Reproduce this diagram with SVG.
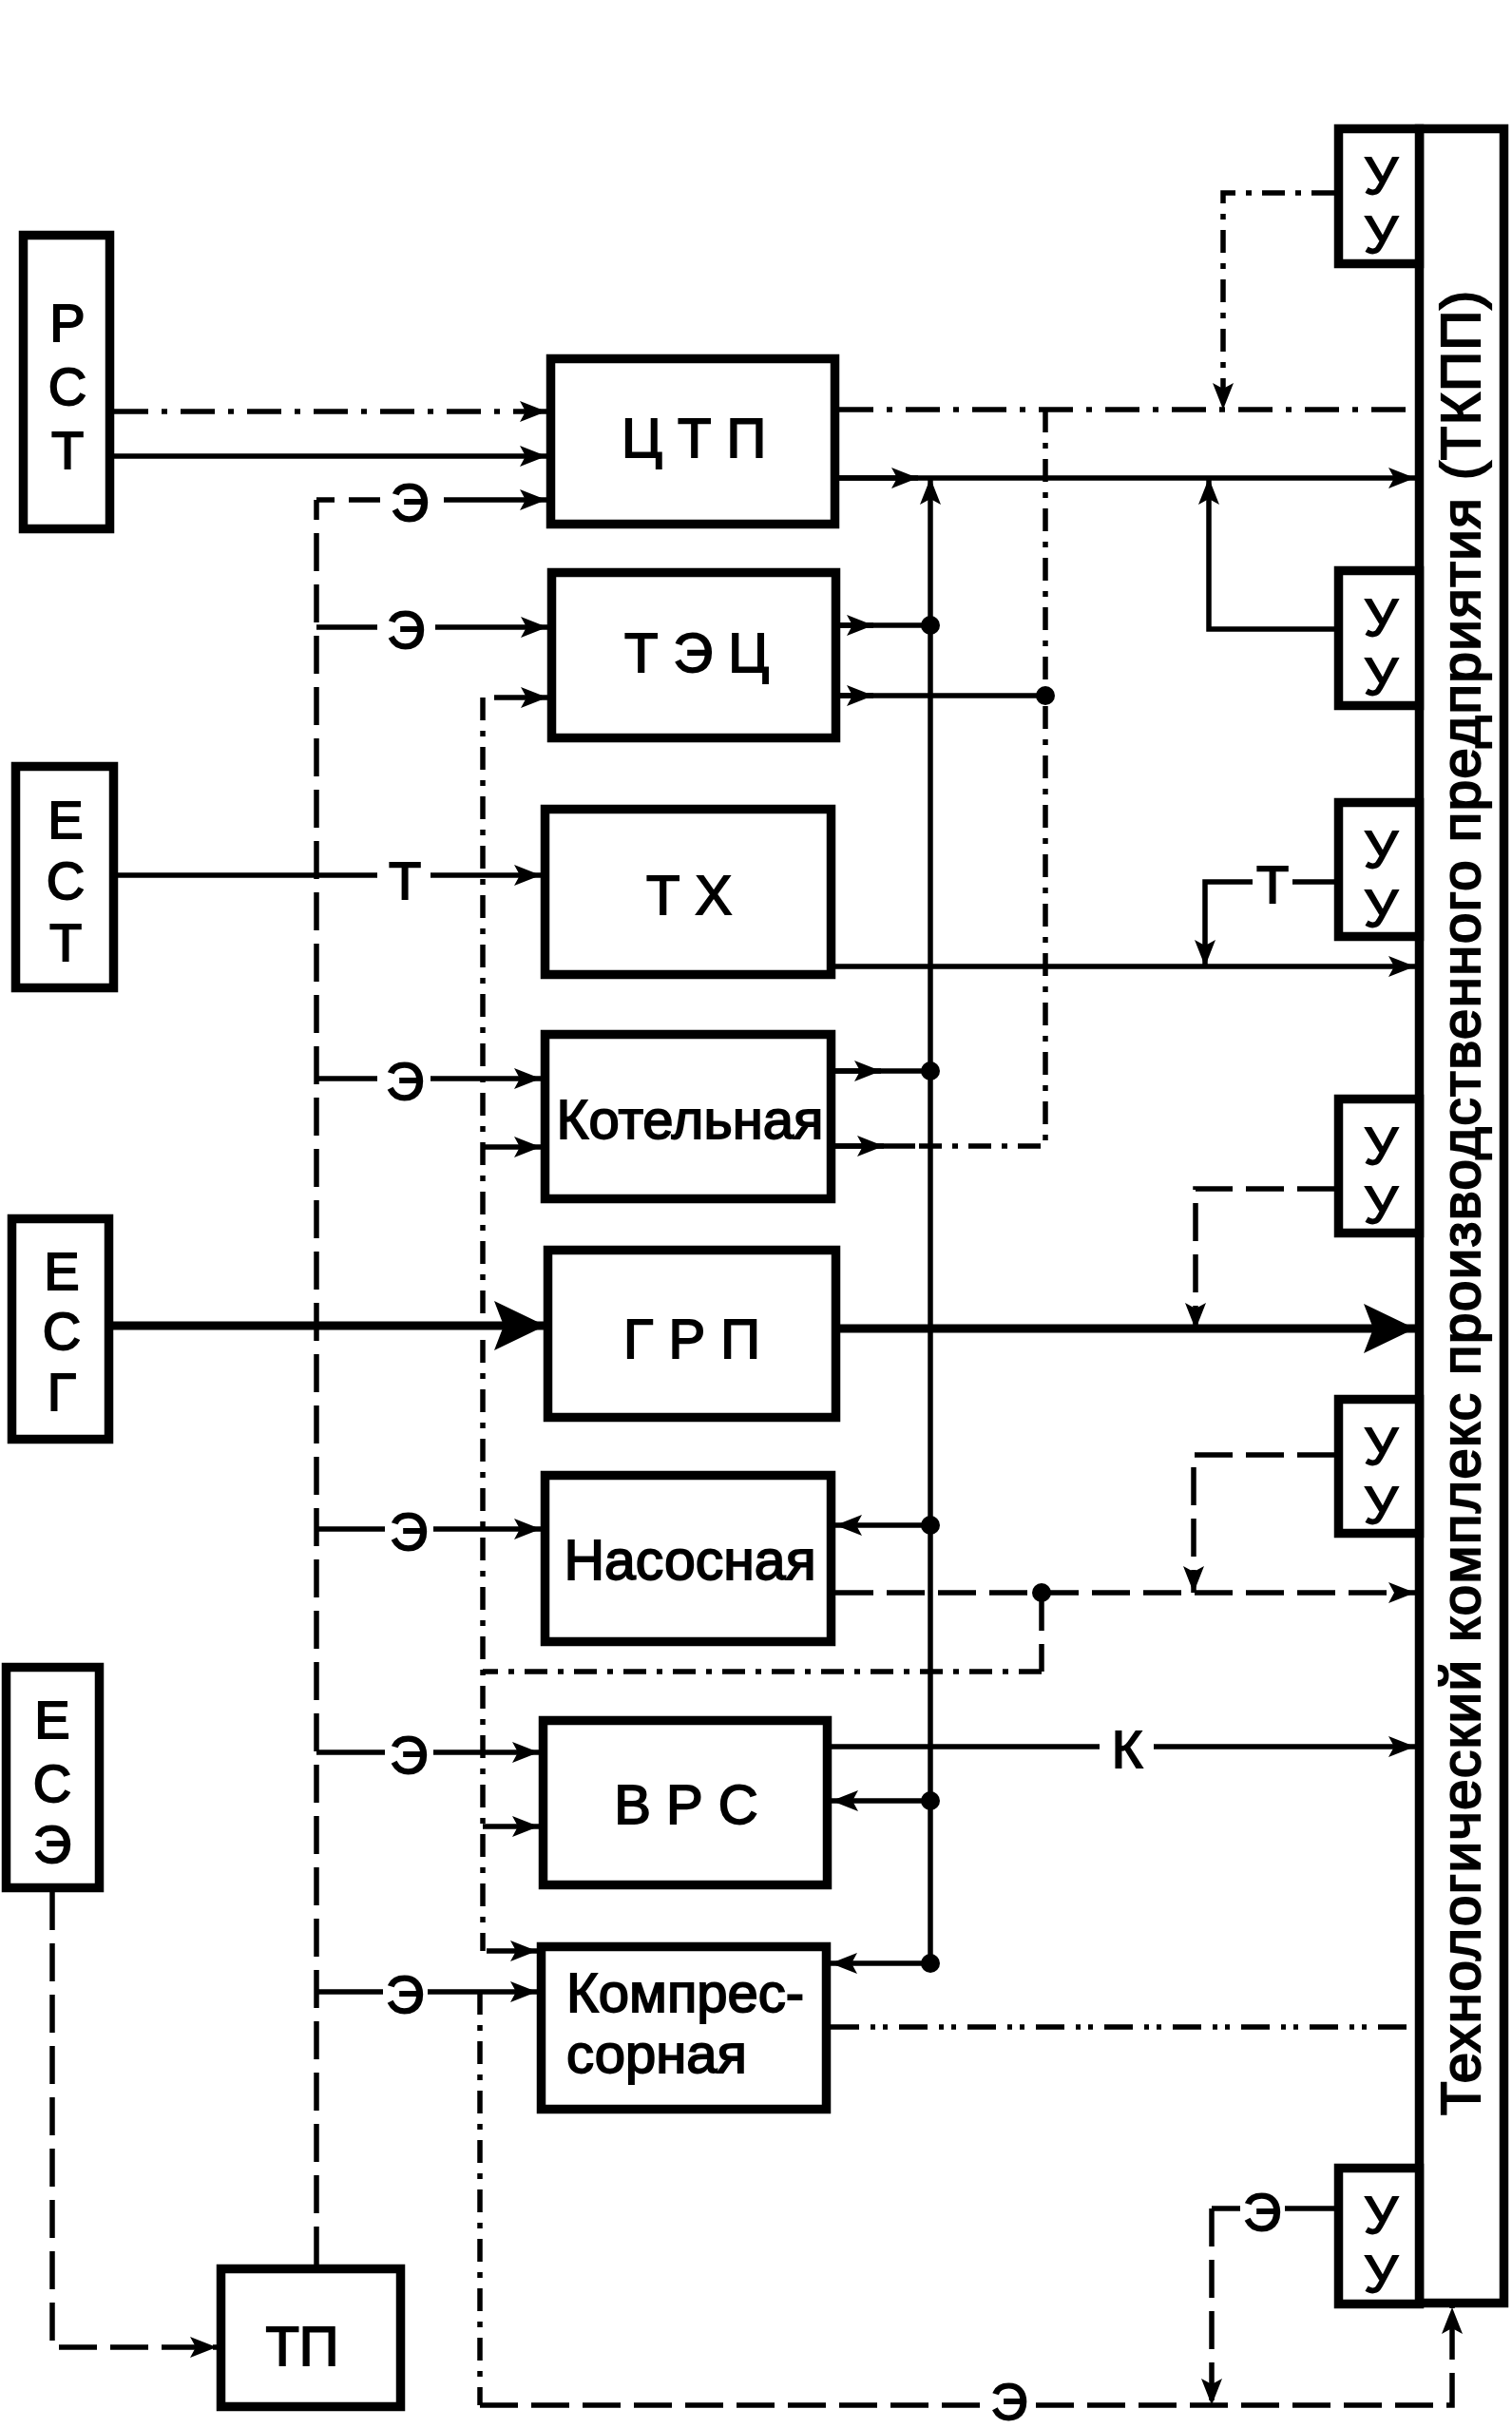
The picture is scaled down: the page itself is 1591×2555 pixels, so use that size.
<svg xmlns="http://www.w3.org/2000/svg" width="1591" height="2555" viewBox="0 0 1591 2555">
<style>
.box{fill:#fff;stroke:#000;stroke-width:9.5}
.ln{fill:none;stroke:#000;stroke-width:5.5}
.thick{fill:none;stroke:#000;stroke-width:9}
.dash{stroke-dasharray:40 14}
.dd{stroke-dasharray:36 14 6 14}
.dds{stroke-dasharray:24 11 6 11}
.ddd{stroke-dasharray:30 12 5 8 5 12}
.t{font-family:"Liberation Sans",Arial,sans-serif;font-size:56px;fill:#000;stroke:#000;stroke-width:1.8;text-anchor:middle}
.b{font-size:58px}
.ts{text-anchor:start}
.dot{fill:#000}
</style>
<defs>
<marker id="a" markerUnits="userSpaceOnUse" markerWidth="28" markerHeight="22" refX="28" refY="11" orient="auto"><path d="M0,0 L28,11 L0,22 L6,11 z" fill="#000"/></marker>
<marker id="A" markerUnits="userSpaceOnUse" markerWidth="54" markerHeight="52" refX="54" refY="26" orient="auto"><path d="M0,0 L54,26 L0,52 L10,26 z" fill="#000"/></marker>
</defs>
<rect width="1591" height="2555" fill="#fff"/>
<g id="connectors">
<path class="ln dd" d="M120,433 H575" marker-end="url(#a)"/>
<path class="ln" d="M120,480 H575" marker-end="url(#a)"/>
<path class="ln dash" d="M333,2383 V526"/>
<path class="ln" d="M333,526 H352 M367,526 H400"/>
<path class="ln" d="M467,526 H575" marker-end="url(#a)"/>
<path class="ln" d="M333,660 H397"/>
<path class="ln" d="M458,660 H576" marker-end="url(#a)"/>
<path class="ln" d="M124,921 H397"/>
<path class="ln" d="M453,921 H569" marker-end="url(#a)"/>
<path class="ln" d="M333,1135 H397"/>
<path class="ln" d="M453,1135 H569" marker-end="url(#a)"/>
<path class="ln" d="M333,1609 H405"/>
<path class="ln" d="M456,1609 H569" marker-end="url(#a)"/>
<path class="ln" d="M333,1844 H405"/>
<path class="ln" d="M456,1844 H567" marker-end="url(#a)"/>
<path class="ln" d="M333,2096 H403"/>
<path class="ln" d="M450,2096 H565" marker-end="url(#a)"/>
<path class="thick" d="M119,1395 H574" marker-end="url(#A)"/>
<path class="thick" d="M884,1398 H1489" marker-end="url(#A)"/>
<path class="ln dash" d="M55,1991 V2470 H228" marker-end="url(#a)"/>
<path class="ln dds" d="M508,734 V2053"/>
<path class="ln" d="M520,734 H576" marker-end="url(#a)"/>
<path class="ln" d="M508,1207 H569" marker-end="url(#a)"/>
<path class="ln" d="M508,1922 H567" marker-end="url(#a)"/>
<path class="ln" d="M512,2053 H565" marker-end="url(#a)"/>
<path class="ln dash" d="M1096,1676 V1759"/>
<path class="ln dds" d="M1096,1759 H508"/>
<path class="ln dds" d="M505,2096 V2531"/>
<path class="ln dash" d="M505,2531 H1035"/>
<path class="ln dash" d="M1090,2531 H1528 V2428" marker-end="url(#a)"/>
<path class="ln" d="M1405,2324 H1352 M1305,2324 H1275"/>
<path class="ln dash" d="M1275,2324 V2531" marker-end="url(#a)"/>
<path class="ln" d="M883,503 H1489" marker-end="url(#a)"/>
<path class="ln" d="M883,503 H966" marker-end="url(#a)"/>
<path class="ln" d="M979,2066 V503" marker-end="url(#a)"/>
<path class="ln" d="M1404,662 H1272 V503" marker-end="url(#a)"/>
<path class="ln dd" d="M883,431 H1482"/>
<path class="ln dds" d="M1404,203 H1287 V431" marker-end="url(#a)"/>
<path class="ln dds" d="M1100,431 V1206 H963"/>
<path class="ln" d="M884,658 H979"/>
<path class="ln" d="M884,658 H919" marker-end="url(#a)"/>
<path class="ln" d="M884,732 H1100"/>
<path class="ln" d="M884,732 H919" marker-end="url(#a)"/>
<path class="ln" d="M879,1127 H979"/>
<path class="ln" d="M879,1127 H927" marker-end="url(#a)"/>
<path class="ln" d="M879,1206 H963"/>
<path class="ln" d="M879,1206 H930" marker-end="url(#a)"/>
<path class="ln" d="M879,1017 H1489" marker-end="url(#a)"/>
<path class="ln" d="M1407,928 H1360 M1318,928 H1268 V1017" marker-end="url(#a)"/>
<path class="ln dash" d="M1405,1251 H1258 V1399" marker-end="url(#a)"/>
<path class="ln dash" d="M1405,1531 H1256 V1676" marker-end="url(#a)"/>
<path class="ln dash" d="M879,1676 H1489" marker-end="url(#a)"/>
<path class="ln" d="M979,1605 H879" marker-end="url(#a)"/>
<path class="ln" d="M979,1895 H875" marker-end="url(#a)"/>
<path class="ln" d="M979,2066 H874" marker-end="url(#a)"/>
<path class="ln" d="M875,1838 H1157"/>
<path class="ln" d="M1214,1838 H1489" marker-end="url(#a)"/>
<path class="ln ddd" d="M874,2133 H1489"/>
<circle class="dot" cx="979" cy="658" r="10"/>
<circle class="dot" cx="979" cy="1127" r="10"/>
<circle class="dot" cx="979" cy="1605" r="10"/>
<circle class="dot" cx="979" cy="1895" r="10"/>
<circle class="dot" cx="979" cy="2066" r="10"/>
<circle class="dot" cx="1100" cy="732" r="10"/>
<circle class="dot" cx="1096" cy="1676" r="10"/>
<text class="t" x="431" y="548">Э</text>
<text class="t" x="427" y="682">Э</text>
<text class="t" x="426" y="946">Т</text>
<text class="t" x="426" y="1157">Э</text>
<text class="t" x="430" y="1631">Э</text>
<text class="t" x="430" y="1866">Э</text>
<text class="t" x="426" y="2118">Э</text>
<text class="t" x="1339" y="950">Т</text>
<text class="t" x="1186" y="1860">К</text>
<text class="t" x="1328" y="2347">Э</text>
<text class="t" x="1062" y="2546" style="font-size:54px">Э</text>
</g>
<g id="RST"><rect class="box" x="24.5" y="247.5" width="91" height="309"/><text class="t" x="71" y="359">Р</text><text class="t" x="71" y="426">С</text><text class="t" x="71" y="493">Т</text></g>
<g id="EST"><rect class="box" x="16.5" y="806.5" width="103" height="233"/><text class="t" x="69" y="882">Е</text><text class="t" x="69" y="946">С</text><text class="t" x="69" y="1011">Т</text></g>
<g id="ESG"><rect class="box" x="12.5" y="1282.5" width="102" height="232"/><text class="t" x="65" y="1357">Е</text><text class="t" x="65" y="1420">С</text><text class="t" x="65" y="1484">Г</text></g>
<g id="ESE"><rect class="box" x="6.5" y="1754.5" width="98" height="232"/><text class="t" x="55" y="1829">Е</text><text class="t" x="55" y="1896">С</text><text class="t" x="55" y="1960">Э</text></g>
<g id="TP"><rect class="box" x="232.5" y="2387.5" width="189" height="145"/><text class="t b" x="318" y="2489">ТП</text></g>
<g id="CTP"><rect class="box" x="579.5" y="377.5" width="299" height="174"/><text class="t b" x="730" y="481">Ц Т П</text></g>
<g id="TEC"><rect class="box" x="580.5" y="602.5" width="299" height="174"/><text class="t b" x="733" y="707">Т Э Ц</text></g>
<g id="TH"><rect class="box" x="573.5" y="851.5" width="301" height="174"/><text class="t b" x="725" y="962">Т Х</text></g>
<g id="Kotel"><rect class="box" x="573.5" y="1088.5" width="301" height="173"/><text class="t b" x="726" y="1198">Котельная</text></g>
<g id="GRP"><rect class="box" x="576.5" y="1315.5" width="303" height="176"/><text class="t b" x="728" y="1429">Г Р П</text></g>
<g id="Nasos"><rect class="box" x="573.5" y="1552.5" width="301" height="175"/><text class="t b" x="726" y="1662" style="font-size:59px">Насосная</text></g>
<g id="VRS"><rect class="box" x="571.5" y="1810.5" width="299" height="173"/><text class="t b" x="722" y="1919">В Р С</text></g>
<g id="Kompr"><rect class="box" x="569.5" y="2048.5" width="300" height="171"/><text class="t b ts" x="596" y="2117">Компрес-</text><text class="t b ts" x="596" y="2181">сорная</text></g>
<g id="TKPP"><rect class="box" x="1493.5" y="135.5" width="89" height="2288"/><text class="t" x="1557" y="1266" transform="rotate(-90 1557 1266)" style="font-size:58px;stroke-width:2.2" textLength="1920" lengthAdjust="spacing">Технологический комплекс производственного предприятия (ТКПП)</text></g>
<g id="UU1"><rect class="box" x="1408.5" y="135.5" width="85" height="142"/><text class="t" x="1453" y="204">У</text><text class="t" x="1453" y="266">У</text></g>
<g id="UU2"><rect class="box" x="1408.5" y="600.5" width="85" height="142"/><text class="t" x="1453" y="669">У</text><text class="t" x="1453" y="731">У</text></g>
<g id="UU3"><rect class="box" x="1408.5" y="844.5" width="85" height="141"/><text class="t" x="1453" y="913">У</text><text class="t" x="1453" y="975">У</text></g>
<g id="UU4"><rect class="box" x="1408.5" y="1156.5" width="85" height="141"/><text class="t" x="1453" y="1225">У</text><text class="t" x="1453" y="1287">У</text></g>
<g id="UU5"><rect class="box" x="1408.5" y="1472.5" width="85" height="141"/><text class="t" x="1453" y="1541">У</text><text class="t" x="1453" y="1603">У</text></g>
<g id="UU6"><rect class="box" x="1408.5" y="2281.5" width="85" height="143"/><text class="t" x="1453" y="2350">У</text><text class="t" x="1453" y="2412">У</text></g>
</svg>
